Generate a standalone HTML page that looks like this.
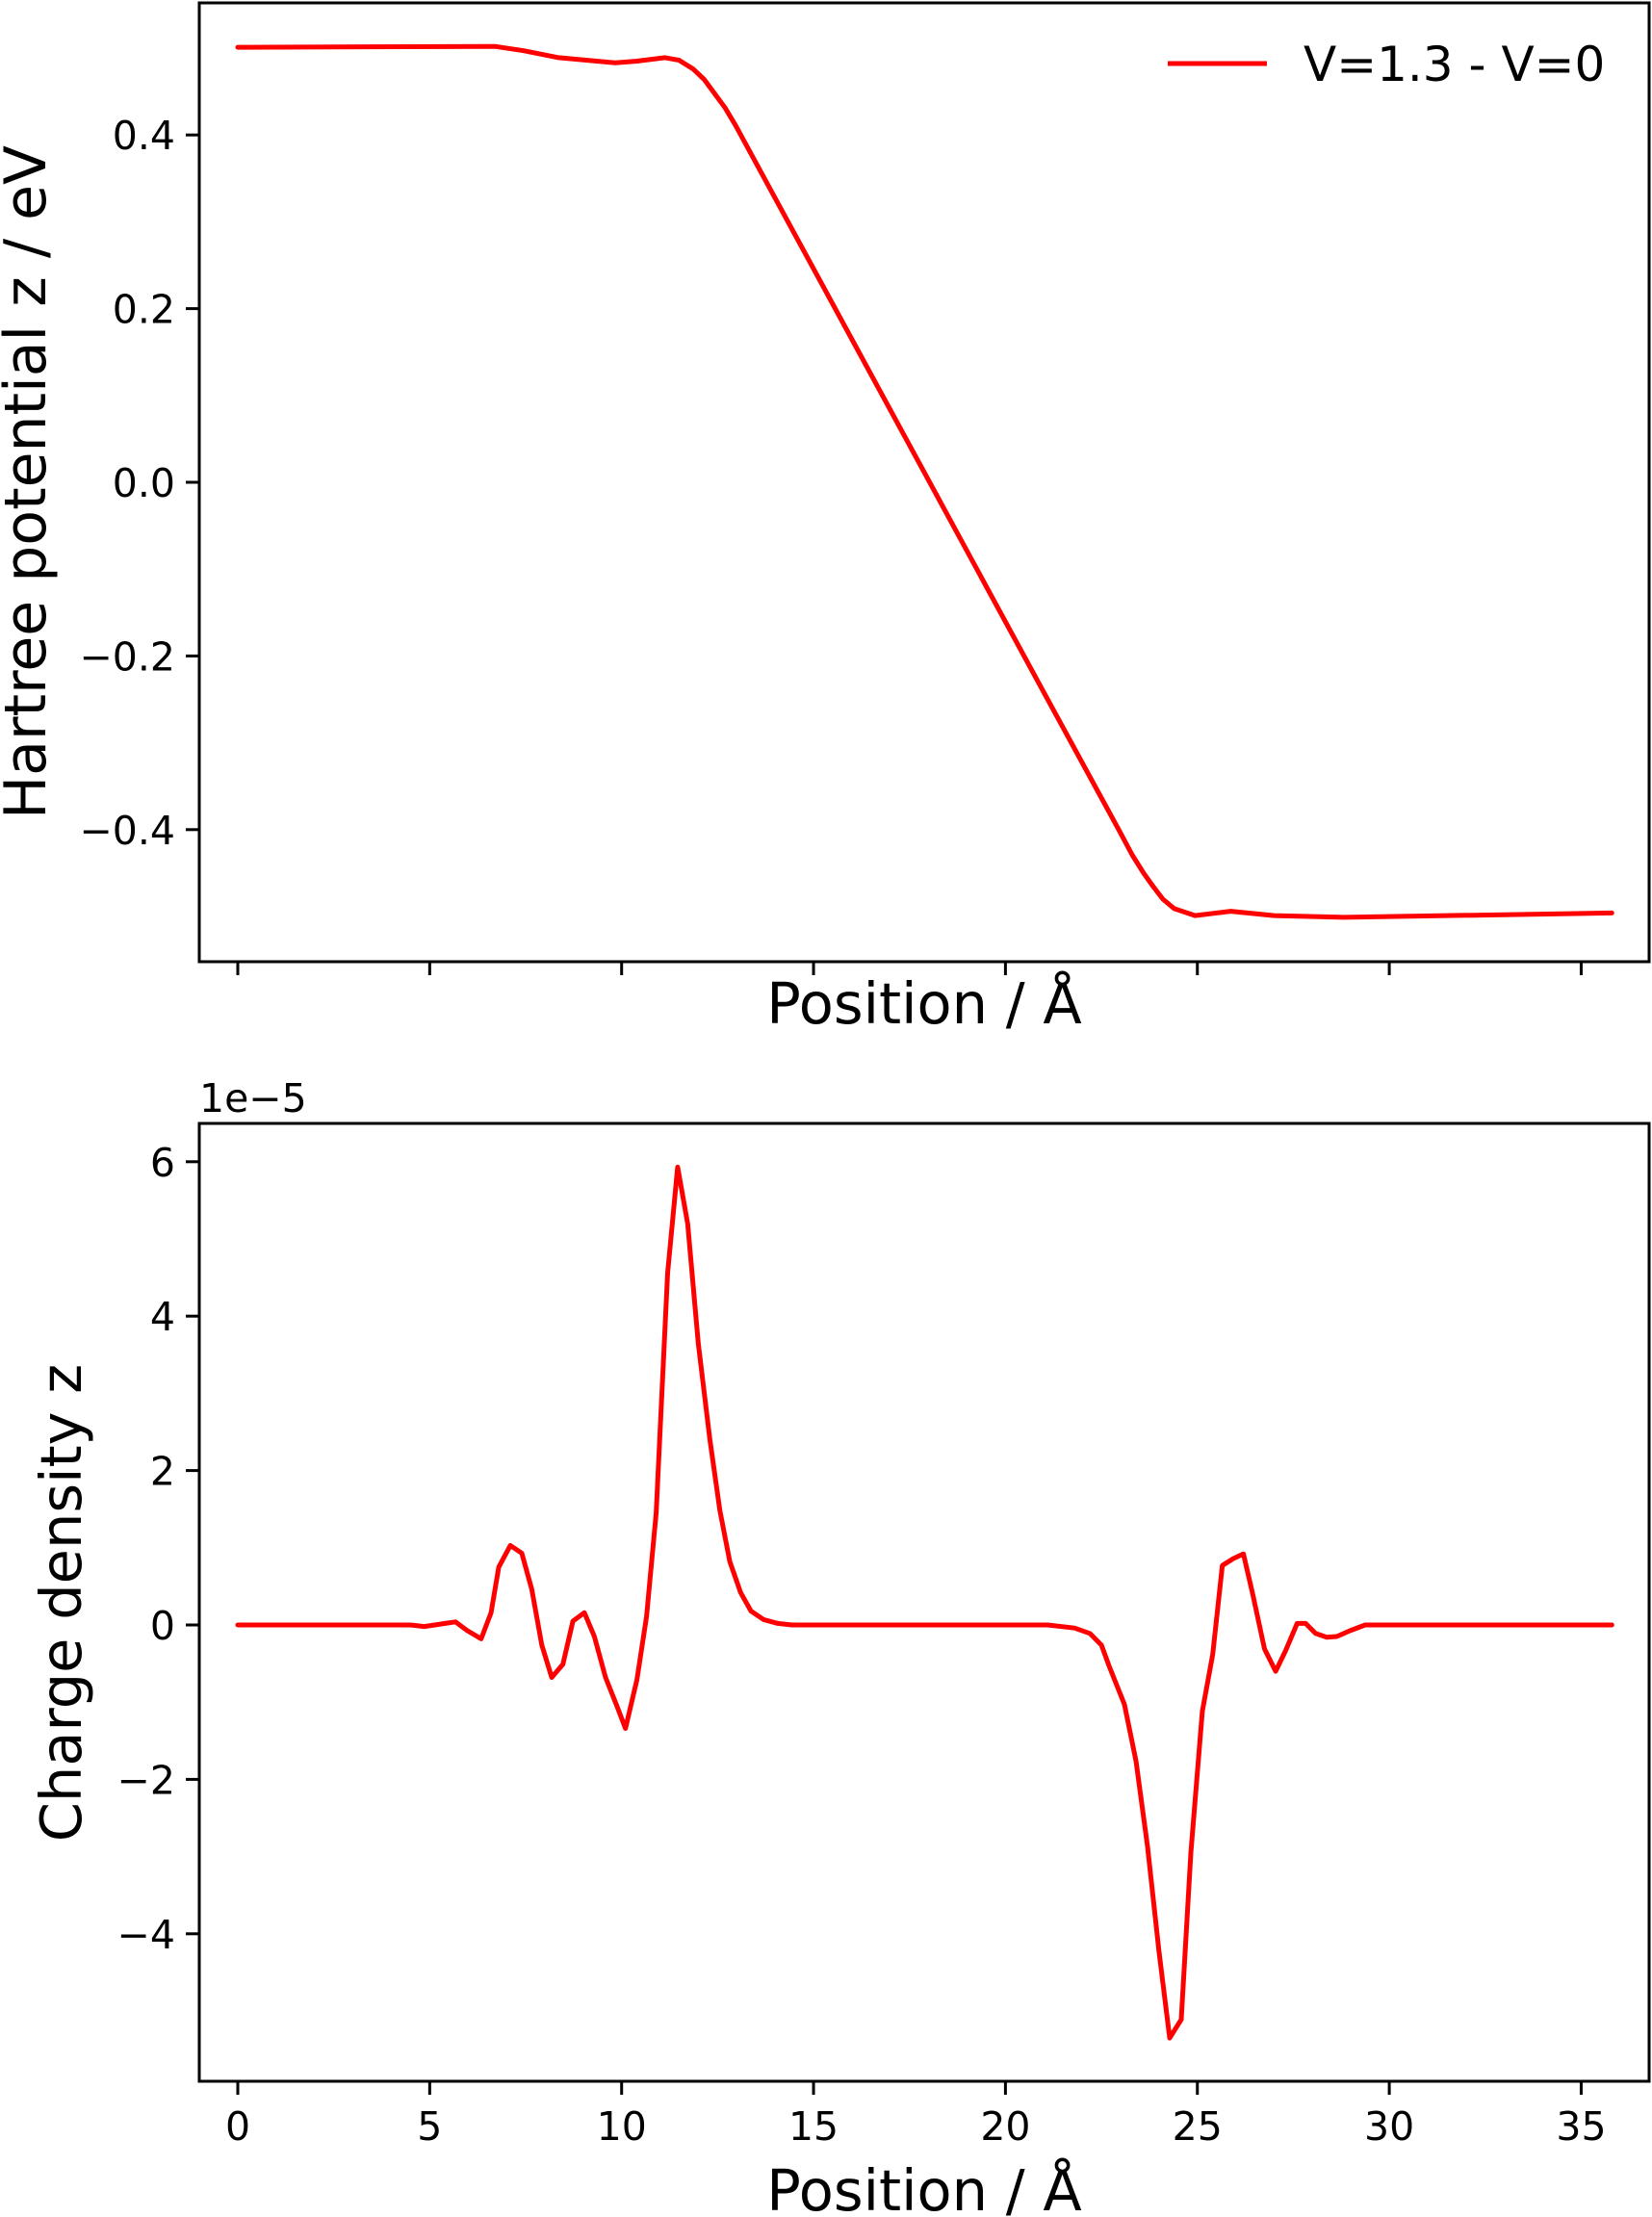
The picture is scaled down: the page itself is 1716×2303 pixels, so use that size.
<!DOCTYPE html>
<html><head><meta charset="utf-8"><style>
html,body{margin:0;padding:0;background:#fff}
svg{display:block;font-family:"DejaVu Sans","Liberation Sans",sans-serif}
</style></head><body>
<svg id="chart" width="1716" height="2303" xmlns="http://www.w3.org/2000/svg"></svg>
<script>
const hartreeX=[0,6.7,7.45,8.36,9.84,10.4,11.13,11.5,11.86,12.15,12.4,12.7,12.97,15,18,21,23.0,23.3,23.6,23.84,24.1,24.4,24.94,25.87,27,28.8,35.8];
const hartreeY=[0.501,0.502,0.497,0.489,0.483,0.485,0.489,0.486,0.476,0.464,0.449,0.431,0.411,0.246,0.002,-0.242,-0.404,-0.429,-0.450,-0.465,-0.480,-0.491,-0.499,-0.494,-0.499,-0.501,-0.496];
const chargeX=[0,4.5,4.86,5.4,5.67,5.97,6.34,6.6,6.8,7.1,7.4,7.66,7.92,8.18,8.47,8.73,9.03,9.29,9.58,9.87,10.1,10.4,10.65,10.9,11.2,11.46,11.72,12.0,12.3,12.56,12.82,13.1,13.37,13.7,14.07,14.44,21.1,21.8,22.2,22.5,22.7,23.1,23.4,23.7,24.0,24.28,24.58,24.83,25.13,25.4,25.65,25.94,26.2,26.45,26.75,27.04,27.3,27.6,27.82,28.08,28.37,28.63,29.0,29.37,35.8];
const chargeY=[0,0,-0.02,0.02,0.04,-0.07,-0.18,0.16,0.75,1.03,0.93,0.46,-0.26,-0.68,-0.51,0.05,0.16,-0.15,-0.68,-1.04,-1.34,-0.71,0.11,1.45,4.56,5.93,5.2,3.64,2.4,1.48,0.82,0.42,0.18,0.07,0.02,0,0,-0.04,-0.11,-0.26,-0.53,-1.03,-1.76,-2.86,-4.23,-5.35,-5.11,-2.95,-1.12,-0.38,0.77,0.86,0.92,0.38,-0.31,-0.6,-0.33,0.02,0.02,-0.11,-0.16,-0.15,-0.07,0,0];
const xTicks=[0,5,10,15,20,25,30,35];
const xTickLabels=["0","5","10","15","20","25","30","35"];
const topYTicks=[0.4,0.2,0.0,-0.2,-0.4];
const topYTickLabels=["0.4","0.2","0.0","\u22120.2","\u22120.4"];
const botYTicks=[6,4,2,0,-2,-4];
const botYTickLabels=["6","4","2","0","\u22122","\u22124"];

const NS="http://www.w3.org/2000/svg";
const svg=document.getElementById('chart');
function mk(tag,attrs,parent){const e=document.createElementNS(NS,tag);for(const k in attrs)e.setAttribute(k,attrs[k]);(parent||svg).appendChild(e);return e;}
const L=207,R=1713;
const sx=v=>247+v*39.87;
const topY=v=>501-v*902;
const botY=v=>1688-v*80.2;
const axT={t:3,b:999}, axB={t:1167,b:2162};

function line(xs,ys,fy,name){
  const d=xs.map((x,i)=>(i?'L':'M')+sx(x).toFixed(1)+','+fy(ys[i]).toFixed(1)).join('');
  const p=mk('path',{d:d,fill:'none',stroke:'#ff0000','stroke-width':5,'stroke-linejoin':'round','stroke-linecap':'round'});
  
  
}
function frame(ax,name){
  const r=mk('rect',{x:L,y:ax.t,width:R-L,height:ax.b-ax.t,fill:'none',stroke:'#000','stroke-width':3});
  
  
}
function xticks(ax,labels){
  xTicks.forEach((v,i)=>{
    const t=mk('line',{x1:sx(v),x2:sx(v),y1:ax.b,y2:ax.b+14,stroke:'#000','stroke-width':3});
    
    
    if(labels){
      const tx=mk('text',{x:sx(v),y:2223,'font-size':41,'text-anchor':'middle'});
      tx.textContent=xTickLabels[i];
      
      
    }
  });
}
function yticks(vals,labs,fy){
  vals.forEach((v,i)=>{
    const y=fy(v);
    const t=mk('line',{x1:L-14,x2:L,y1:y,y2:y,stroke:'#000','stroke-width':3});
    
    
    const tx=mk('text',{x:L-25,y:y+15,'font-size':41,'text-anchor':'end'});
    tx.textContent=labs[i];
    
    
  });
}
function text(x,y,s,size,name,rot,anchor){
  const a={x:x,y:y,'font-size':size,'text-anchor':anchor||'middle'};
  if(rot)a.transform='rotate(-90 '+x+' '+y+')';
  const t=mk('text',a);t.textContent=s;
  
  
}

// top panel
line(hartreeX,hartreeY,topY,'hartree-line');
frame(axT,'top-plot-frame');
xticks(axT,false);
yticks(topYTicks,topYTickLabels,topY);
text(960,1063,'Position / Å',59,'top-x-axis-title');
text(47,501,'Hartree potential z / eV',60,'top-y-axis-title',true);
const lg=mk('line',{x1:1213,x2:1316,y1:66,y2:66,stroke:'#ff0000','stroke-width':5});


text(1354,84,'V=1.3 - V=0',50,'legend-label',false,'start');

// bottom panel
line(chargeX,chargeY,botY,'charge-density-line');
frame(axB,'bottom-plot-frame');
xticks(axB,true);
yticks(botYTicks,botYTickLabels,botY);
text(207,1155,'1e\u22125',41,'y-offset-label',false,'start');
text(960,2296,'Position / Å',59,'bottom-x-axis-title');
text(84,1665,'Charge density z',59,'bottom-y-axis-title',true);
</script>
</body></html>
